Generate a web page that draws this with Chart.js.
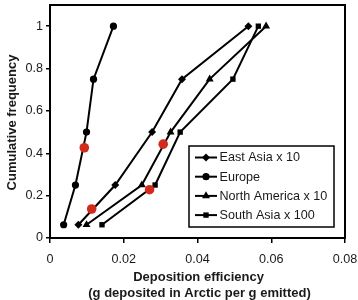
<!DOCTYPE html>
<html>
<head>
<meta charset="utf-8">
<script src="https://cdn.jsdelivr.net/npm/chart.js@4.4.1/dist/chart.umd.min.js"></script>
<style>
  html, body { margin: 0; padding: 0; background: #fff; }
  #wrap { width: 358px; height: 300px; }
</style>
</head>
<body>
<div id="wrap"><canvas id="c" width="358" height="300"></canvas></div>
<script>
// Cumulative frequency levels (shared by all series)
const freqLevels = [0.0625, 0.25, 0.5, 0.75, 1];
// Deposition efficiency values per region
const eastAsiaX = [0.0077, 0.0177, 0.0277, 0.0358, 0.0538];
const europeX = [0.0037, 0.0069, 0.0099, 0.0118, 0.0172];
const northAmericaX = [0.0099, 0.0249, 0.0327, 0.0433, 0.0586];
const southAsiaX = [0.0141, 0.0285, 0.0353, 0.0496, 0.0565];
// Highlighted (red) points
const redX = [0.0093, 0.0307, 0.0113, 0.0270];
const redY = [0.426, 0.443, 0.137, 0.228];
// Series names
const seriesNames = ['East Asia x 10', 'Europe', 'North America x 10', 'South Asia x 100'];
// Tick labels
const xTicks = [0, 0.02, 0.04, 0.06, 0.08];
const yTicks = [0, 0.2, 0.4, 0.6, 0.8, 1];

const FONT = '"Liberation Sans", Arial, Helvetica, sans-serif';
const TXT = '#1a1a1a';

function pts(xs, ys) { return xs.map((x, i) => ({ x: x, y: ys[i] })); }

const styles = [
  { pointStyle: 'rectRot', r: 4 },
  { pointStyle: 'circle', r: 3.6 },
  { pointStyle: 'triangle', r: 4.6 },
  { pointStyle: 'rect', r: 3.8 }
];
const seriesX = [eastAsiaX, europeX, northAmericaX, southAsiaX];

const datasets = seriesX.map((xs, i) => ({
  label: seriesNames[i],
  data: pts(xs, freqLevels),
  showLine: true,
  borderColor: '#000',
  backgroundColor: '#000',
  borderWidth: 2,
  pointStyle: styles[i].pointStyle,
  pointRadius: styles[i].r,
  pointBorderWidth: 0,
  pointBackgroundColor: '#000',
  order: 2
}));
datasets.push({
  label: 'highlight',
  data: pts(redX, redY),
  showLine: false,
  pointStyle: 'circle',
  pointRadius: 4.8,
  pointBorderWidth: 0,
  pointBackgroundColor: '#d22a1c',
  backgroundColor: '#d22a1c',
  order: 1
});

function drawMarker(ctx, style, r, x, y) {
  ctx.save();
  ctx.fillStyle = '#000';
  ctx.beginPath();
  if (style === 'circle') {
    ctx.arc(x, y, r, 0, Math.PI * 2);
  } else if (style === 'rectRot') {
    ctx.moveTo(x, y - r); ctx.lineTo(x + r, y); ctx.lineTo(x, y + r); ctx.lineTo(x - r, y);
    ctx.closePath();
  } else if (style === 'triangle') {
    ctx.moveTo(x, y - r); ctx.lineTo(x + r * 0.866, y + r * 0.5); ctx.lineTo(x - r * 0.866, y + r * 0.5);
    ctx.closePath();
  } else {
    const s = r * Math.SQRT1_2;
    ctx.rect(x - s, y - s, 2 * s, 2 * s);
  }
  ctx.fill();
  ctx.restore();
}

const framePlugin = {
  id: 'frame',
  afterDraw(chart) {
    const ctx = chart.ctx;
    const a = chart.chartArea;
    ctx.save();
    // plot frame
    ctx.strokeStyle = '#000';
    ctx.lineWidth = 2;
    ctx.strokeRect(a.left, a.top, a.right - a.left, a.bottom - a.top);

    // legend box
    const lx = 189, ly = 146, lw = 145, lh = 81;
    ctx.fillStyle = '#fff';
    ctx.fillRect(lx, ly, lw, lh);
    ctx.lineWidth = 1.5;
    ctx.strokeRect(lx, ly, lw, lh);
    ctx.font = '12.6px ' + FONT;
    ctx.fillStyle = TXT;
    ctx.textBaseline = 'middle';
    ctx.textAlign = 'left';
    for (let i = 0; i < seriesNames.length; i++) {
      const y = 157.5 + i * 19.2;
      ctx.strokeStyle = '#000';
      ctx.lineWidth = 2;
      ctx.beginPath();
      ctx.moveTo(195, y); ctx.lineTo(217, y);
      ctx.stroke();
      drawMarker(ctx, styles[i].pointStyle, styles[i].r, 206, y);
      ctx.fillStyle = TXT;
      ctx.fillText(seriesNames[i], 219.5, y + 0.5);
    }

    // axis titles
    ctx.font = 'bold 13px ' + FONT;
    ctx.fillStyle = TXT;
    ctx.textAlign = 'center';
    ctx.textBaseline = 'middle';
    ctx.fillText('Deposition efficiency', 198.5, 277);
    ctx.fillText('(g deposited in Arctic per g emitted)', 199.5, 293.5);
    ctx.translate(12.5, 122.5);
    ctx.rotate(-Math.PI / 2);
    ctx.fillText('Cumulative frequency', 0, 0);
    ctx.restore();
  }
};

function fmt(v) { return String(Math.round(v * 1000) / 1000); }

new Chart(document.getElementById('c'), {
  type: 'scatter',
  data: { datasets: datasets },
  plugins: [framePlugin],
  options: {
    responsive: false,
    devicePixelRatio: 1,
    animation: false,
    layout: { padding: { top: 5, right: 13, left: 0, bottom: 0 } },
    plugins: { legend: { display: false }, tooltip: { enabled: false } },
    scales: {
      x: {
        type: 'linear',
        min: 0, max: 0.08,
        afterBuildTicks: s => { s.ticks = xTicks.map(v => ({ value: v })); },
        afterFit: s => { s.height = 62; s.paddingLeft = 0; s.paddingRight = 0; },
        ticks: { font: { family: FONT, size: 12.6 }, color: TXT, padding: 9, maxRotation: 0, callback: v => fmt(v) },
        grid: { drawOnChartArea: false, tickLength: 5, color: '#000', lineWidth: 1.5 },
        border: { color: '#000', width: 2 }
      },
      y: {
        type: 'linear',
        min: 0, max: 1.1,
        afterBuildTicks: s => { s.ticks = yTicks.map(v => ({ value: v })); },
        afterFit: s => { s.width = 50; s.paddingTop = 0; s.paddingBottom = 0; },
        ticks: { font: { family: FONT, size: 12.6 }, color: TXT, padding: 3, callback: v => fmt(v) },
        grid: { drawOnChartArea: false, tickLength: 4, color: '#000', lineWidth: 1.5 },
        border: { color: '#000', width: 2 }
      }
    }
  }
});
</script>
</body>
</html>
